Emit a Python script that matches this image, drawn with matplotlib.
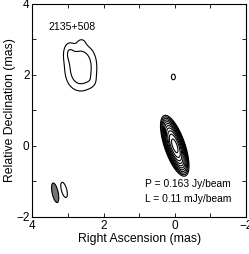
import numpy as np
import matplotlib
matplotlib.use('Agg')
import matplotlib.pyplot as plt
from matplotlib.patches import Ellipse

plt.rcParams['font.family'] = ['Liberation Sans', 'DejaVu Sans']

# source info
source = '2135+508'
peak = 0.163      # Jy/beam
lowest = 0.11     # mJy/beam

# gaussian model components: ra, dec (mas), flux (mJy/beam), sig_major, sig_minor (mas), PA (deg)
comp_ra = [0.00, 0.15, 2.64, 2.64, 2.98, 2.62, 2.33, 3.11, 0.04]
comp_dec = [0.00, 0.40, 1.96, 2.45, 2.66, 2.90, 1.80, -1.24, 1.94]
comp_flux = [163.0, 1.5, 0.245, 0.245, 0.12, 0.08, 0.04, 0.15, 0.15]
comp_smaj = [0.235, 0.15, 0.32, 0.32, 0.20, 0.09, 0.12, 0.28, 0.10]
comp_smin = [0.075, 0.07, 0.29, 0.29, 0.11, 0.08, 0.10, 0.095, 0.07]
comp_pa = [19, 19, 0, 0, 0, 0, 0, 15, 0]

# restoring beam: ra, dec, major, minor (mas), PA (deg)
beam = [3.36, -1.32, 0.56, 0.17, 12]

ra = np.linspace(-2, 4, 601)
dec = np.linspace(-2, 4, 601)
RA, DEC = np.meshgrid(ra, dec)
img = np.zeros_like(RA)
for x0, y0, f, a, b, pa in zip(comp_ra, comp_dec, comp_flux, comp_smaj, comp_smin, comp_pa):
    t = np.radians(pa)
    dx = RA - x0
    dy = DEC - y0
    u = dx * np.sin(t) + dy * np.cos(t)
    v = dx * np.cos(t) - dy * np.sin(t)
    img += f * np.exp(-0.5 * (u**2 / a**2 + v**2 / b**2))

levels = [lowest * 2**n for n in range(11)]

fig = plt.figure(figsize=(2.49, 2.54), dpi=100)
ax = fig.add_axes([0.13, 0.146, 0.858, 0.839])

ax.contour(RA, DEC, img, levels=levels, colors='black', linewidths=0.8)

ax.add_patch(Ellipse((beam[0], beam[1]), beam[3], beam[2], angle=-beam[4],
                     facecolor='0.45', edgecolor='black', linewidth=0.8))

ax.set_xlim(4, -2)
ax.set_ylim(-2, 4)
ax.set_xticks([4, 2, 0, -2])
ax.set_yticks([-2, 0, 2, 4])
ax.set_xticks([3, 1, -1], minor=True)
ax.set_yticks([-1, 1, 3], minor=True)
ax.tick_params(which='both', direction='in', top=True, right=True, labelsize=8.5,
               length=3, width=0.6, pad=2)
for s in ax.spines.values():
    s.set_linewidth(0.8)

ax.set_xlabel('Right Ascension (mas)', fontsize=8.8, labelpad=1)
ax.set_ylabel('Relative Declination (mas)', fontsize=8.8, labelpad=0)

ax.text(3.56, 3.35, source, fontsize=7.6, ha='left', va='center')
ax.text(0.84, -1.07, 'P = %.3f Jy/beam' % peak, fontsize=7.4, ha='left', va='center')
ax.text(0.84, -1.49, 'L = %.2f mJy/beam' % lowest, fontsize=7.4, ha='left', va='center')

fig.savefig('out.png', dpi=100)
